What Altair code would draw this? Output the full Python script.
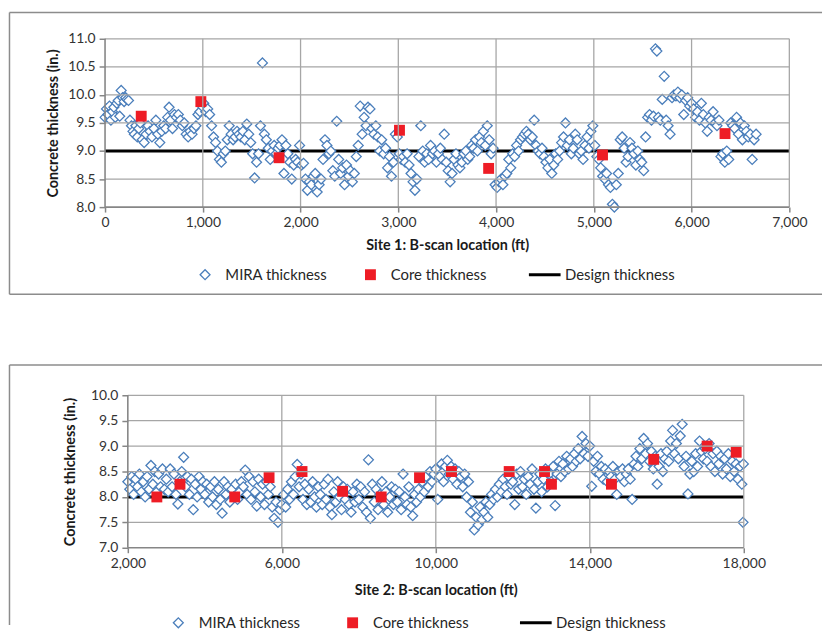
import altair as alt
import pandas as pd

SERIES = ["MIRA thickness", "Core thickness", "Design thickness"]
STROKES = ["#4a7ebb", "#ee1c25", "#000000"]
FILLS = ["#ffffff", "#ee1c25", "#000000"]
SHAPES = ["diamond", "square", "M-3.2,0H3.2"]
SIZES = [100, 121, 100]
WIDTHS = [1.3, 0, 3]

# ---------------- Site 1 ----------------
S1_MIRA = [
    (0, 9.60), (15, 9.75), (30, 9.65), (45, 9.80), (60, 9.55), (75, 9.70), (90, 9.78), (105, 9.60),
    (120, 9.85), (135, 9.90), (150, 9.62), (165, 10.08), (180, 9.95), (195, 9.88), (210, 9.95),
    (225, 9.92), (240, 9.90), (255, 9.55), (270, 9.45), (285, 9.35), (300, 9.30), (315, 9.45),
    (330, 9.25), (345, 9.40), (360, 9.50), (380, 9.20), (400, 9.15), (420, 9.30), (440, 9.45),
    (460, 9.35), (480, 9.25), (500, 9.40), (520, 9.55), (540, 9.30), (560, 9.15), (580, 9.35),
    (600, 9.45), (620, 9.40), (640, 9.60), (655, 9.78), (670, 9.55), (690, 9.40), (710, 9.65),
    (730, 9.60), (750, 9.65), (770, 9.55), (790, 9.45), (810, 9.50), (830, 9.30), (850, 9.25),
    (870, 9.35), (890, 9.30), (910, 9.40), (930, 9.45), (950, 9.65), (970, 9.70), (990, 9.80),
    (1010, 9.85), (1030, 9.70), (1050, 9.75), (1070, 9.65), (1090, 9.45), (1110, 9.25), (1130, 9.15),
    (1150, 9.00), (1170, 8.85), (1190, 8.80), (1210, 8.95), (1230, 9.00), (1250, 9.20), (1270, 9.45),
    (1290, 9.30), (1310, 9.20), (1330, 9.25), (1350, 9.35), (1370, 9.30), (1390, 9.25), (1410, 9.35),
    (1430, 9.20), (1450, 9.48), (1470, 9.30), (1490, 9.15), (1510, 8.95), (1530, 8.52), (1550, 8.80),
    (1570, 8.95), (1590, 9.45), (1610, 10.57), (1630, 9.30), (1650, 9.20), (1670, 9.05), (1690, 8.85),
    (1710, 9.00), (1730, 9.10), (1750, 8.95), (1770, 9.05), (1790, 9.10), (1810, 9.20), (1830, 8.60),
    (1850, 9.10), (1870, 8.95), (1890, 8.80), (1910, 8.50), (1930, 8.75), (1950, 8.85), (1970, 8.80),
    (1990, 9.10), (2010, 8.75), (2030, 8.78), (2050, 8.50), (2070, 8.30), (2090, 8.45), (2110, 8.40),
    (2130, 8.55), (2150, 8.60), (2170, 8.27), (2190, 8.40), (2210, 8.50), (2230, 8.85), (2250, 9.20),
    (2270, 9.10), (2290, 8.95), (2310, 9.00), (2330, 8.65), (2350, 8.55), (2370, 9.53), (2390, 8.85),
    (2410, 8.60), (2430, 8.70), (2450, 8.40), (2470, 8.75), (2490, 8.55), (2510, 8.65), (2530, 8.45),
    (2550, 8.60), (2570, 8.90), (2590, 9.10), (2610, 9.80), (2630, 9.30), (2650, 9.60), (2670, 9.45),
    (2690, 9.78), (2710, 9.75), (2730, 9.40), (2750, 9.30), (2770, 9.45), (2790, 9.25), (2810, 9.00),
    (2830, 9.20), (2850, 8.95), (2870, 9.05), (2890, 8.70), (2910, 8.90), (2930, 8.55), (2950, 8.80),
    (2970, 9.30), (2990, 9.25), (3010, 8.95), (3030, 8.85), (3050, 8.90), (3070, 8.80), (3090, 8.95),
    (3110, 8.75), (3130, 8.60), (3150, 8.45), (3170, 8.30), (3190, 8.50), (3210, 8.90), (3230, 9.45),
    (3250, 9.00), (3270, 8.80), (3290, 8.95), (3310, 8.85), (3330, 9.10), (3350, 8.95), (3370, 9.00),
    (3390, 8.80), (3410, 8.95), (3430, 9.05), (3450, 8.85), (3470, 9.30), (3490, 8.80), (3510, 8.65),
    (3530, 8.45), (3550, 8.60), (3570, 8.85), (3590, 8.95), (3610, 8.75), (3630, 8.70), (3650, 8.80),
    (3670, 8.95), (3690, 9.00), (3710, 8.85), (3730, 8.90), (3750, 9.10), (3770, 9.05), (3790, 9.20),
    (3810, 9.00), (3830, 9.25), (3850, 9.15), (3870, 9.35), (3890, 9.10), (3910, 9.45), (3930, 9.20),
    (3950, 8.95), (3970, 9.05), (3990, 8.40), (4010, 8.35), (4030, 8.45), (4050, 8.50), (4070, 8.40),
    (4090, 8.55), (4110, 8.60), (4130, 8.85), (4150, 8.70), (4170, 8.95), (4190, 8.90), (4210, 9.10),
    (4230, 9.00), (4250, 9.20), (4270, 9.25), (4290, 9.30), (4310, 9.35), (4330, 9.30), (4350, 9.20),
    (4370, 9.25), (4390, 9.55), (4410, 9.10), (4430, 9.00), (4450, 8.95), (4470, 9.05), (4490, 8.90),
    (4510, 8.80), (4530, 8.70), (4550, 8.85), (4570, 8.60), (4590, 8.75), (4610, 8.95), (4630, 8.85),
    (4650, 9.00), (4670, 9.15), (4690, 9.25), (4710, 9.50), (4730, 9.10), (4750, 9.20), (4770, 8.95),
    (4790, 9.05), (4810, 9.30), (4830, 9.20), (4850, 8.95), (4870, 9.00), (4890, 8.85), (4910, 9.10),
    (4930, 9.25), (4950, 9.05), (4970, 9.35), (4990, 9.45), (5010, 9.10), (5030, 8.90), (5050, 8.85),
    (5070, 8.70), (5090, 8.55), (5110, 8.50), (5130, 8.60), (5150, 8.40), (5170, 8.35), (5190, 8.05),
    (5210, 8.00), (5230, 8.40), (5250, 8.60), (5270, 9.20), (5290, 9.25), (5310, 9.05), (5330, 8.80),
    (5350, 8.90), (5370, 9.15), (5390, 9.05), (5410, 8.95), (5430, 8.75), (5450, 9.00), (5470, 8.85),
    (5490, 8.80), (5510, 8.65), (5530, 9.25), (5550, 9.60), (5570, 9.65), (5590, 9.55), (5610, 9.62),
    (5630, 10.82), (5645, 10.78), (5660, 9.60), (5680, 9.55), (5700, 9.92), (5720, 10.33), (5740, 9.55),
    (5760, 9.45), (5780, 9.30), (5800, 9.95), (5820, 10.00), (5840, 9.98), (5860, 10.05), (5880, 9.95),
    (5900, 10.00), (5920, 9.65), (5940, 9.90), (5960, 9.95), (5980, 9.80), (6000, 9.85), (6020, 9.75),
    (6040, 9.60), (6060, 9.70), (6080, 9.55), (6100, 9.85), (6120, 9.65), (6140, 9.50), (6160, 9.35),
    (6180, 9.60), (6200, 9.55), (6220, 9.70), (6240, 9.50), (6260, 9.45), (6280, 9.55), (6300, 8.90),
    (6320, 8.95), (6340, 8.80), (6360, 9.00), (6380, 8.85), (6400, 9.50), (6420, 9.45), (6440, 9.40),
    (6460, 9.60), (6480, 9.30), (6500, 9.50), (6520, 9.20), (6540, 9.45), (6560, 9.35), (6580, 9.25),
    (6600, 9.30), (6620, 8.85), (6640, 9.20), (6660, 9.30),
]
S1_CORE_X = [370, 980, 1780, 3012, 3924, 5089, 6342]
S1_CORE_Y = [9.62, 9.88, 8.88, 9.37, 8.69, 8.93, 9.31]
S1_DESIGN = [9.0]
S1_X_TICKS = [0, 1000, 2000, 3000, 4000, 5000, 6000, 7000]
S1_Y_TICKS = [8.0, 8.5, 9.0, 9.5, 10.0, 10.5, 11.0]

# ---------------- Site 2 ----------------
S2_MIRA = [
    (2000, 8.30), (2050, 8.15), (2100, 8.40), (2150, 8.05), (2200, 8.35), (2250, 8.20), (2300, 8.45),
    (2350, 8.10), (2400, 8.30), (2450, 8.00), (2500, 8.40), (2550, 8.15), (2600, 8.62), (2650, 8.25),
    (2700, 8.50), (2750, 8.10), (2800, 8.45), (2850, 8.20), (2900, 8.55), (2950, 8.15),
    (3000, 8.35), (3050, 8.10), (3100, 8.55), (3150, 8.20), (3200, 8.45), (3250, 8.05), (3300, 7.86),
    (3350, 8.30), (3400, 8.50), (3450, 8.78), (3500, 8.20), (3550, 8.40), (3600, 8.05), (3650, 8.35),
    (3700, 7.75), (3750, 8.25), (3800, 8.00), (3850, 8.40), (3900, 8.15), (3950, 8.30),
    (4000, 8.05), (4050, 8.25), (4100, 7.90), (4150, 8.20), (4200, 8.00), (4250, 8.30), (4300, 7.85),
    (4350, 8.15), (4400, 7.95), (4450, 7.68), (4500, 8.30), (4550, 8.05), (4600, 8.20), (4650, 7.90),
    (4700, 8.15), (4750, 8.00), (4800, 8.25), (4850, 7.95), (4900, 8.10), (4950, 8.30),
    (5000, 8.20), (5050, 8.53), (5100, 8.05), (5150, 8.40), (5200, 7.95), (5250, 8.30), (5300, 8.10),
    (5350, 7.82), (5400, 8.35), (5450, 8.00), (5500, 8.25), (5550, 7.85), (5600, 8.30), (5650, 8.05),
    (5700, 8.20), (5750, 7.80), (5800, 7.58), (5850, 7.90), (5900, 7.50), (5950, 7.75),
    (6000, 7.85), (6050, 8.05), (6100, 7.80), (6150, 8.15), (6200, 7.95), (6250, 8.30), (6300, 8.05),
    (6350, 8.40), (6400, 8.64), (6450, 8.20), (6500, 8.45), (6550, 7.95), (6600, 8.25), (6650, 7.85),
    (6700, 8.15), (6750, 7.90), (6800, 8.30), (6850, 8.00), (6900, 7.80), (6950, 8.20),
    (7000, 8.05), (7050, 7.85), (7100, 8.25), (7150, 7.95), (7200, 8.35), (7250, 7.80), (7300, 7.65),
    (7350, 8.10), (7400, 7.90), (7450, 8.30), (7500, 8.00), (7550, 7.75), (7600, 8.20), (7650, 7.95),
    (7700, 8.15), (7750, 7.85), (7800, 7.70), (7850, 8.10), (7900, 7.90), (7950, 8.25),
    (8000, 7.95), (8050, 8.20), (8100, 7.80), (8150, 8.10), (8200, 7.70), (8250, 8.73), (8300, 7.58),
    (8350, 8.25), (8400, 7.90), (8450, 8.15), (8500, 7.75), (8550, 8.05), (8600, 8.30), (8650, 7.85),
    (8700, 8.10), (8750, 7.70), (8800, 8.00), (8850, 8.20), (8900, 7.85), (8950, 8.15),
    (9000, 7.90), (9050, 8.10), (9100, 7.75), (9150, 8.45), (9200, 8.00), (9250, 7.85), (9300, 8.20),
    (9350, 7.80), (9400, 7.63), (9450, 8.05), (9500, 7.90), (9550, 8.15), (9600, 8.00), (9650, 8.30),
    (9700, 8.10), (9750, 8.40), (9800, 8.20), (9850, 8.50), (9900, 8.30), (9950, 8.45),
    (10000, 8.55), (10050, 7.95), (10100, 8.40), (10150, 8.65), (10200, 8.30), (10250, 8.60),
    (10300, 8.72), (10350, 8.45), (10400, 8.60), (10450, 8.35), (10500, 8.55), (10550, 8.25),
    (10600, 8.50), (10650, 8.40), (10700, 8.20), (10750, 8.45), (10800, 8.00), (10850, 8.30),
    (10900, 7.70), (10950, 7.90),
    (11000, 7.35), (11050, 7.60), (11100, 7.45), (11150, 7.80), (11200, 7.55), (11250, 7.70),
    (11300, 7.90), (11350, 7.60), (11400, 7.85), (11450, 8.05), (11500, 7.95), (11550, 8.15),
    (11600, 8.00), (11650, 8.25), (11700, 8.10), (11750, 8.35), (11800, 8.20), (11850, 8.05),
    (11900, 8.40), (11950, 8.25),
    (12000, 8.30), (12050, 7.85), (12100, 8.45), (12150, 8.15), (12200, 8.50), (12250, 8.20),
    (12300, 8.35), (12350, 8.05), (12400, 8.40), (12450, 8.25), (12500, 8.55), (12550, 8.15),
    (12600, 7.78), (12650, 8.30), (12700, 8.45), (12750, 8.10), (12800, 8.35), (12850, 8.55),
    (12900, 8.20), (12950, 8.45),
    (13000, 8.30), (13050, 8.60), (13100, 7.83), (13150, 8.45), (13200, 8.70), (13250, 8.40),
    (13300, 8.65), (13350, 8.50), (13400, 8.80), (13450, 8.55), (13500, 8.75), (13550, 8.60),
    (13600, 8.85), (13650, 8.70), (13700, 8.95), (13750, 8.75), (13800, 9.19), (13850, 8.85),
    (13900, 9.05), (13950, 8.80),
    (14000, 9.00), (14050, 8.21), (14100, 8.70), (14150, 8.50), (14200, 8.80), (14250, 8.45),
    (14300, 8.60), (14350, 8.35), (14400, 8.55), (14450, 8.30), (14500, 8.50), (14550, 8.40),
    (14600, 8.60), (14650, 8.35), (14700, 8.05), (14750, 8.50), (14800, 8.40), (14850, 8.55),
    (14900, 8.30), (14950, 8.45),
    (15000, 8.55), (15050, 8.35), (15100, 7.95), (15150, 8.65), (15200, 8.80), (15250, 8.60),
    (15300, 8.95), (15350, 8.75), (15400, 9.15), (15450, 8.85), (15500, 9.05), (15550, 8.70),
    (15600, 8.90), (15650, 8.55), (15700, 8.80), (15750, 8.25), (15800, 8.60), (15850, 8.85),
    (15900, 8.50), (15950, 8.75),
    (16000, 8.90), (16050, 8.70), (16100, 9.10), (16150, 9.31), (16200, 8.85), (16250, 9.05),
    (16300, 8.75), (16350, 9.20), (16400, 9.43), (16450, 8.60), (16500, 8.80), (16550, 8.06),
    (16600, 8.45), (16650, 8.70), (16700, 8.50), (16750, 8.85), (16800, 8.60), (16850, 9.10),
    (16900, 8.90), (16950, 8.75),
    (17000, 8.95), (17050, 8.70), (17100, 9.05), (17150, 8.60), (17200, 8.85), (17250, 8.50),
    (17300, 8.90), (17350, 8.65), (17400, 8.80), (17450, 8.45), (17500, 8.75), (17550, 8.55),
    (17600, 8.85), (17650, 8.40), (17700, 8.70), (17750, 8.50), (17800, 8.65), (17850, 8.35),
    (17900, 8.60), (17950, 8.25), (17980, 7.50), (17990, 8.65),
]
S2_CORE_X = [2754, 3355, 4777, 5669, 6525, 7579, 8582, 9577, 10407, 11906, 12824, 13004, 14563, 15660, 17048, 17803]
S2_CORE_Y = [8.0, 8.25, 8.0, 8.38, 8.5, 8.11, 8.0, 8.38, 8.5, 8.5, 8.5, 8.25, 8.25, 8.74, 9.0, 8.88]
S2_DESIGN = [8.0]
S2_X_TICKS = [2000, 6000, 10000, 14000, 18000]
S2_Y_TICKS = [7.0, 7.5, 8.0, 8.5, 9.0, 9.5, 10.0]

FONT = "Lato"
BOX = "#8c8c8c"
GRID = "#a6a6a6"
AXIS_LINE = "#868686"


def panel(mira, core_x, core_y, design, xdom, xticks, ydom, yticks, xtitle,
          w, h, xrange, yaxis_offset, box, box_bottom, leg_x, leg_y, col_pad, ytitle_pad, xtitle_pad):
    mira_df = pd.DataFrame(mira, columns=["x", "y"])
    mira_df["series"] = SERIES[0]
    core_df = pd.DataFrame({"x": core_x, "y": core_y, "series": SERIES[1]})
    design_df = pd.DataFrame({"y": design, "series": SERIES[2]})

    legend = alt.Legend(
        orient="none", legendX=leg_x, legendY=leg_y, direction="horizontal",
        columns=3, title=None, padding=0, columnPadding=col_pad, labelOffset=13,
        labelFont=FONT, labelFontSize=15, labelColor="#262626", labelLimit=300,
    )

    def style(with_shape=True):
        enc = dict(
            stroke=alt.Stroke("series:N", scale=alt.Scale(domain=SERIES, range=STROKES), legend=legend),
            strokeWidth=alt.StrokeWidth("series:N", scale=alt.Scale(type="ordinal", domain=SERIES, range=WIDTHS),
                                        legend=legend),
        )
        if with_shape:
            enc.update(
                fill=alt.Fill("series:N", scale=alt.Scale(domain=SERIES, range=FILLS), legend=legend),
                shape=alt.Shape("series:N", scale=alt.Scale(domain=SERIES, range=SHAPES), legend=legend),
                size=alt.Size("series:N", scale=alt.Scale(type="ordinal", domain=SERIES, range=SIZES),
                              legend=legend),
            )
        return enc

    xscale = alt.Scale(domain=xdom, nice=False, zero=False, range=xrange)
    yscale = alt.Scale(domain=ydom, nice=False, zero=False)
    xaxis = alt.Axis(values=xticks, format=",.0f", title=xtitle, titlePadding=xtitle_pad,
                     grid=False, domain=False)
    yaxis = alt.Axis(values=yticks, format=".1f", title="Concrete thickness (in.)",
                     titlePadding=ytitle_pad, grid=False, domain=False, offset=yaxis_offset)
    xenc = alt.X("x:Q", scale=xscale, axis=xaxis)
    yenc = alt.Y("y:Q", scale=yscale, axis=yaxis)
    x_from = alt.datum(xdom[0])
    x_to = alt.datum(xdom[1])

    left, top, right, bottom = box
    one = pd.DataFrame({"k": [0]})
    edges = [
        alt.Chart(one).mark_rule(color=BOX, strokeWidth=1.5).encode(
            x=alt.value(left), x2=alt.value(right), y=alt.value(top), y2=alt.value(top)),
        alt.Chart(one).mark_rule(color=BOX, strokeWidth=1.5).encode(
            x=alt.value(left), x2=alt.value(left), y=alt.value(top), y2=alt.value(bottom)),
    ]
    if box_bottom:
        edges.append(alt.Chart(one).mark_rule(color=BOX, strokeWidth=1.5).encode(
            x=alt.value(left), x2=alt.value(right), y=alt.value(bottom), y2=alt.value(bottom)))

    # gridlines and axis lines drawn from the tick lists (the design value keeps its black line)
    hvals = [v for v in yticks[1:] if v not in design]
    vgrid = alt.Chart(pd.DataFrame({"x": xticks[1:]})).mark_rule().encode(
        x=xenc, stroke=alt.value(GRID), strokeWidth=alt.value(1.3))
    hgrid = alt.Chart(pd.DataFrame({"y": hvals})).mark_rule().encode(
        y=yenc, x=x_from, x2=x_to, stroke=alt.value(GRID), strokeWidth=alt.value(1.3))
    xline = alt.Chart(pd.DataFrame({"y": [ydom[0]]})).mark_rule().encode(
        y=yenc, x=x_from, x2=x_to, stroke=alt.value(AXIS_LINE), strokeWidth=alt.value(1.6))
    yline = alt.Chart(pd.DataFrame({"x": [xdom[0]]})).mark_rule().encode(
        x=xenc, stroke=alt.value(AXIS_LINE), strokeWidth=alt.value(1.6))
    grids = [vgrid, hgrid, xline, yline]

    design_layer = alt.Chart(design_df).mark_rule().encode(y=yenc, x=x_from, x2=x_to, **style(False))
    mira_layer = alt.Chart(mira_df).mark_point(filled=True, opacity=1).encode(x=xenc, y=yenc, **style())
    core_layer = alt.Chart(core_df).mark_point(filled=True, opacity=1).encode(x=xenc, y=yenc, **style())

    layers = [*edges, design_layer, mira_layer, core_layer, *grids]
    return alt.layer(*layers).properties(width=w, height=h)


top = panel(S1_MIRA, S1_CORE_X, S1_CORE_Y, S1_DESIGN, [0, 7000], S1_X_TICKS, [8.0, 11.0], S1_Y_TICKS,
            "Site 1:  B-scan location (ft)", 691, 170, [0, 691], 0,
            (-96.5, -26.5, 724, 258), True, 93.5, 230.5, 36, 7, 8.5)
bottom = panel(S2_MIRA, S2_CORE_X, S2_CORE_Y, S2_DESIGN, [2000, 18000], S2_X_TICKS, [7.0, 10.0], S2_Y_TICKS,
               "Site 2:  B-scan location (ft)", 668, 154, [23, 645], -23,
               (-96.5, -30.6, 724, 232), False, 66.5, 222, 45, 13, 13.5)

chart = (
    alt.vconcat(top, bottom, spacing=69)
    .resolve_scale(x="independent", y="independent", stroke="independent", fill="independent",
                   shape="independent", size="independent", strokeWidth="independent")
    .properties(padding=0, background="white")
    .configure_view(strokeWidth=0)
    .configure_axis(
        labelFont=FONT, labelFontSize=14, labelColor="#333333", labelFlush=False, labelOverlap=False,
        titleFont=FONT, titleFontSize=14.5, titleFontWeight="bold", titleColor="#1a1a1a",
        tickColor=AXIS_LINE, tickWidth=1.5,
    )
    .configure_axisX(tickSize=5, labelPadding=4)
    .configure_axisY(tickSize=6, labelPadding=4)
)

chart.save("out.html", embed_options={"renderer": "svg", "actions": False})
